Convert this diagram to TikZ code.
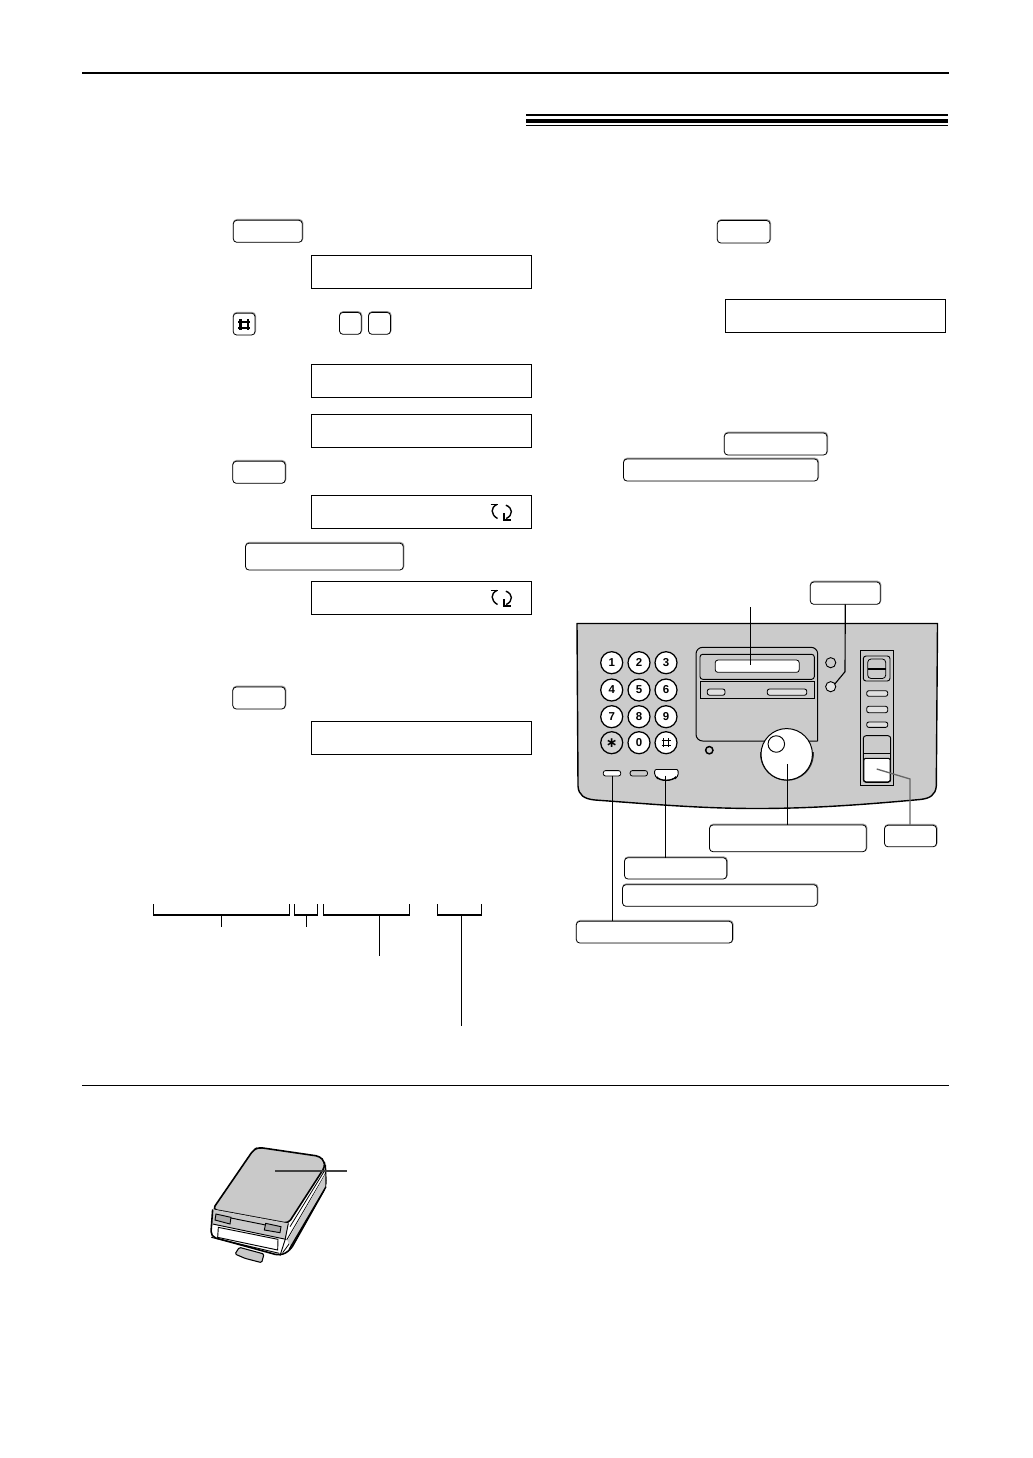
\documentclass[tikz,border=0pt]{standalone}
\usepackage{fontspec}
\setmainfont{Liberation Sans}
\newfontfamily\symfont{DejaVu Sans}
\definecolor{panelgray}{HTML}{CBCBCB}
\definecolor{capshadow}{HTML}{9A9A9A}
\definecolor{pagergray}{HTML}{C9C9C9}
\tikzset{
  ink/.style={draw=black,line width=0.75pt},
  thinink/.style={draw=black,line width=0.55pt},
  keycap/.style={draw=black,line width=0.6pt,rounded corners=2.6pt,fill=white,inner sep=0pt,outer sep=0pt,
    preaction={draw=capshadow,line width=1.1pt,transform canvas={shift={(0.25pt,0.45pt)}}}},
  lcd/.style={draw=black,line width=0.85pt,fill=white,inner sep=0pt,outer sep=0pt},
  leader/.style={draw=black,line width=0.85pt},
  bracketline/.style={draw=black,line width=0.8pt},
  numkey/.style={circle,draw=black,line width=0.95pt,fill=white,minimum size=16.5pt,inner sep=0pt,font=\bfseries\fontsize{8.6pt}{9pt}\selectfont},
  softbtn/.style={draw=black,line width=0.65pt,rounded corners=1.6pt,fill=panelgray!60!white},
}
\newcommand{\capbox}[5]{\node[keycap,minimum width={(#4-#2)*0.75pt},minimum height={(#5-#3)*0.75pt}] (#1) at ({(#2+#4)/2},{(#3+#5)/2}) {};}
\newcommand{\lcdbox}[5]{\node[lcd,minimum width={(#4-#2)*0.75pt},minimum height={(#5-#3)*0.75pt}] (#1) at ({(#2+#4)/2},{(#3+#5)/2}) {};}
\newcommand{\arrowspair}[2]{%
  \begin{scope}[shift={(#1,#2)},x=0.25pt,y=-0.25pt,line width=1.05pt]
    \draw (0,4) -- (21,4);
    \draw (19,4) .. controls (0,12) and (0,34) .. (21,46);
    \draw (46,6) .. controls (68,14) and (68,36) .. (47,46);
    \draw (41,30) -- (41,50) -- (62,50);
  \end{scope}}
\begin{document}
\begin{tikzpicture}[x=0.75pt,y=-0.75pt]
\useasboundingbox (0,0) rectangle (1032,1458);
\fill[white] (0,0) rectangle (1032,1458);

% page rules
\coordinate (ruleTL) at (82,73.5); \coordinate (ruleTR) at (949,73.5);
\draw[line width=1.5pt] (ruleTL) -- (ruleTR);
\coordinate (ruleBL) at (82,1085.5); \coordinate (ruleBR) at (949,1085.5);
\draw[line width=0.8pt] (ruleBL) -- (ruleBR);
\fill (526,114) rectangle (948,116.2);
\fill (526,118.7) rectangle (948,123.4);
\fill (526,124.7) rectangle (948,125.8);

% left column
\capbox{bA}{233.3}{220.3}{302.3}{242.3}
\lcdbox{dA}{311.3}{255.3}{531.5}{288.3}
\capbox{bHash}{233.2}{313.2}{255}{335}
\draw[line width=1.7pt] (240.6,319.2) -- (240.6,330.2) (247.8,319.2) -- (247.8,330.2) (238.2,321.8) -- (250.2,321.8) (238.2,328.2) -- (250.2,328.2);
\capbox{kA}{339.5}{312.4}{361.2}{334.3}
\capbox{kB}{368.5}{312.4}{390.5}{334.3}
\lcdbox{dB}{311.3}{364.4}{531.5}{397.4}
\lcdbox{dC}{311.3}{414.4}{531.5}{447.4}
\capbox{bB}{232.8}{461.3}{285.2}{483.3}
\lcdbox{dD}{311.3}{495.4}{531.5}{528.3}
\arrowspair{490.5}{503.2}
\capbox{bC}{245.5}{543.2}{403.3}{570}
\lcdbox{dE}{311.3}{581.4}{531.5}{614.3}
\arrowspair{490.5}{589.2}
\capbox{bD}{232.8}{687}{285.2}{709}
\lcdbox{dF}{311.3}{721.4}{531.5}{754.3}

% right column
\capbox{bE}{717.3}{220.5}{770}{243}
\lcdbox{dG}{725.2}{299.3}{945.6}{332.3}
\capbox{bF}{724.3}{433}{827}{455}
\capbox{bG}{623.5}{459}{818}{481}

% control panel
\fill[panelgray] (577,623.5) -- (937.5,623.5) -- (936.3,786)
  .. controls (935.5,795) and (930,798.5) .. (920,799.5)
  .. controls (860,805) and (810,808.5) .. (757,808.5)
  .. controls (700,808.5) and (650,804) .. (595,800)
  .. controls (584,799) and (578.5,795) .. (578,786) -- cycle;
\draw[line width=1.05pt,line join=round] (577,623.5) -- (937.5,623.5) -- (936.3,786)
  .. controls (935.5,795) and (930,798.5) .. (920,799.5)
  .. controls (860,805) and (810,808.5) .. (757,808.5)
  .. controls (700,808.5) and (650,804) .. (595,800)
  .. controls (584,799) and (578.5,795) .. (578,786) -- cycle;

% keypad
\foreach \nm/\lab/\px/\py in {k1/1/611.7/662.7,k2/2/639/662.7,k3/3/666/662.7,k4/4/611.7/690,k5/5/639/690,k6/6/666/690,k7/7/611.7/716.7,k8/8/639/716.7,k9/9/666/716.7,k0/0/639/742.7}
  {\node[numkey] (\nm) at (\px,\py) {\lab};}
\node[numkey,fill=panelgray!80!white,font={\symfont\bfseries\fontsize{10.5pt}{11pt}\selectfont}] (kStar) at (611.7,742.7) {∗};
\node[numkey] (kPound) at (666,742.7) {};
\draw[line width=0.95pt] (663.8,738.1) -- (663.8,747.3) (668.8,738.1) -- (668.8,747.3) (661.6,740.3) -- (671,740.3) (661.6,745.2) -- (671,745.2);

% centre block
\draw[ink,rounded corners=5pt] (817.7,741) -- (817.7,647.3) -- (696,647.3) -- (696,741) -- (817.7,741);
\draw[thinink,line width=0.7pt,rounded corners=2pt] (700,679.3) -- (700,654.3) -- (814.3,654.3) -- (814.3,679.3) -- cycle;
\draw[thinink,line width=0.7pt] (700,681.2) rectangle (814.3,698.3);
\node[draw=black,line width=0.6pt,rounded corners=2pt,fill=white,minimum width=63pt,minimum height=9.2pt,inner sep=0pt] (lcdPanel) at (757.2,666.2) {};
\draw[softbtn] (707.3,689) rectangle (725,695.2);
\draw[softbtn] (767.3,689) rectangle (806.7,695.2);
\node[circle,draw=black,line width=0.7pt,fill=panelgray,minimum size=7.6pt,inner sep=0pt] (ledA) at (830.7,662.7) {};
\node[circle,draw=black,line width=0.7pt,fill=panelgray!50!white,minimum size=7.6pt,inner sep=0pt] (ledB) at (830.7,686.7) {};
\node[circle,draw=black,line width=1.1pt,fill=panelgray,minimum size=5.5pt,inner sep=0pt] (mic) at (709.3,750.2) {};

% dial
\draw[line width=1.4pt,draw=black!80] (761,752) arc (184:-4:26);
\node[circle,draw=black,line width=0.75pt,fill=white,minimum size=38.6pt,inner sep=0pt] (dial) at (786.7,754.3) {};
\node[circle,draw=black,line width=0.7pt,fill=white,minimum size=12.4pt,inner sep=0pt] (dialKnob) at (776.3,744) {};

% lower buttons
\node[draw=black,line width=0.6pt,rounded corners=1.6pt,fill=white,minimum width=13pt,minimum height=4pt,inner sep=0pt] (softL) at (612,773.3) {};
\node[draw=black,line width=0.6pt,rounded corners=1.6pt,fill=panelgray,minimum width=13pt,minimum height=4pt,inner sep=0pt] (softM) at (638.8,773.3) {};
\fill[white] (655.5,769.5) -- (677,769.5) .. controls (679,771) and (679,776) .. (675,779) .. controls (670,782) and (662,782) .. (658,779) .. controls (654,776) and (654,771) .. (655.5,769.5) -- cycle;
\draw[line width=0.7pt] (655.5,769.5) -- (677,769.5) .. controls (679,771) and (679,776) .. (675,779);
\draw[line width=0.7pt] (655.5,769.5) .. controls (654,771) and (654,776) .. (658,779);
\draw[line width=1.1pt] (656.5,776.8) .. controls (660,781.5) and (672,781.5) .. (676.2,776.8);

% right strip
\draw[thinink,line width=0.7pt] (860.3,650.7) rectangle (893.7,785.7);
\draw[thinink,line width=0.7pt,rounded corners=2pt] (863.3,656) rectangle (890,681);
\draw[thinink,line width=0.6pt,rounded corners=2.5pt] (867.7,659) rectangle (885.7,678.5);
\draw[line width=1pt] (867.7,669) -- (885.7,669);
\draw[softbtn] (866.7,690.7) rectangle (887.7,696.3);
\draw[softbtn] (866.7,706.3) rectangle (887.7,712.7);
\draw[softbtn] (866.7,722) rectangle (887.7,727.4);
\draw[thinink,line width=0.7pt,rounded corners=2pt] (863.3,735.7) rectangle (890.7,782.3);
\draw[line width=0.8pt] (863.3,753.4) -- (890.7,753.4);
\draw[line width=0.8pt,fill=white,rounded corners=1.5pt] (863.8,758.3) -- (890.2,758.3) -- (890.2,781.8) -- (863.8,781.8) -- cycle;

% labels around the panel
\capbox{lTop}{810.3}{582}{880.3}{604.3}
\capbox{lDial}{709.5}{825}{866.3}{851.7}
\capbox{lStart}{884.5}{825.3}{936.5}{846.8}
\capbox{lB}{624.5}{857.7}{726.7}{879}
\capbox{lC}{622.5}{884.7}{817.3}{906.3}
\capbox{lD}{576.3}{921.3}{732.5}{943}

% connectors
\coordinate (freeA) at (750.7,607);
\coordinate (inDisp) at (750.7,665);
\draw[leader] (freeA) -- (inDisp);
\coordinate (bendA) at (845,671.7);
\coordinate (inLed) at (834.8,684);
\draw[leader] (lTop.south) -- (bendA) -- (inLed);
\coordinate (inDial) at (787.3,764);
\draw[leader] (inDial) -- (lDial.north -| inDial);
\coordinate (inStart) at (876.7,769);
\coordinate (bendS) at (910,779);
\draw[leader,draw=black!60,line width=1pt] (inStart) -- (bendS) -- (lStart.north -| bendS);
\coordinate (inRound) at (665.7,775.5);
\draw[leader] (inRound) -- (lB.north -| inRound);
\coordinate (inSoft) at (612.7,775.5);
\draw[leader] (inSoft) -- (lD.north -| inSoft);

% brackets
\coordinate (stA) at (221.3,926.7);
\coordinate (stB) at (306.3,926.7);
\coordinate (stC) at (379.3,956);
\coordinate (stD) at (461.3,1026);
\draw[bracketline] (153.5,904) -- (153.5,915) -- (289.7,915) -- (289.7,904);
\draw[bracketline] (294.5,904) -- (294.5,915) -- (317.7,915) -- (317.7,904);
\draw[bracketline] (323.5,904) -- (323.5,915) -- (409.5,915) -- (409.5,904);
\draw[bracketline] (437.5,904) -- (437.5,915) -- (481.7,915) -- (481.7,904);
\draw[bracketline] (221.3,915) -- (stA);
\draw[bracketline] (306.3,915) -- (stB);
\draw[bracketline] (379.3,915) -- (stC);
\draw[bracketline] (461.3,915) -- (stD);

% pager, in zoom coordinates
\begin{scope}[shift={(190,1130)},x=0.25pt,y=-0.25pt]
  \draw[line width=0.8pt,fill=pagergray,rounded corners=1pt] (148,352) -- (222,372) -- (215,398) -- (165,385) -- (135,372) -- cycle;
  \fill[white] (65,240) -- (190,60) -- (390,79) -- (410,110) -- (408,170) -- (300,362) -- (270,377) -- (62,322) -- cycle;
  \draw[line width=1.2pt,line join=round,rounded corners=3pt,fill=pagergray] (68,238) -- (190,60) -- (205,52) -- (390,79) -- (403,95) -- (405,110) -- (295,280) -- cycle;
  \fill[pagergray] (68,238) -- (295,280) -- (288,328) -- (65,282) -- cycle;
  \draw[line width=1.2pt,line join=round,rounded corners=4pt] (68,238) -- (62,320) -- (270,377) -- (300,362) -- (408,170) -- (406,105);
  \draw[line width=0.7pt] (295,280) -- (285,330) -- (270,377);
  \draw[line width=0.6pt] (300,290) -- (405,120);
  \draw[line width=0.6pt] (290,330) -- (407,130);
  \draw[line width=0.6pt] (278,368) -- (295,345) -- (408,150);
  \fill[pagergray] (292,332) -- (303,350) -- (406,170) -- (406,132) -- cycle;
  \draw[line width=1pt] (298,357) -- (408,170);
  \draw[line width=0.7pt,fill=white] (85,292) -- (264,328) -- (263,360) -- (83,322) -- cycle;
  \draw[line width=0.7pt,fill=pagergray!85!black] (78,252) -- (123,262) -- (120,282) -- (75,270) -- cycle;
  \draw[line width=0.7pt,fill=pagergray!85!black] (227,280) -- (273,290) -- (270,308) -- (223,300) -- cycle;
  \draw[line width=0.7pt] (123,264) -- (227,285);
  \draw[line width=0.7pt] (68,282) -- (288,328);
  \draw[line width=0.7pt] (64,322) -- (268,370);
\end{scope}
\coordinate (pagerIn) at (275,1171);
\coordinate (pagerFree) at (346.7,1171);
\draw[line width=0.8pt,draw=black!75] (pagerIn) -- (pagerFree);
\end{tikzpicture}
\end{document}
